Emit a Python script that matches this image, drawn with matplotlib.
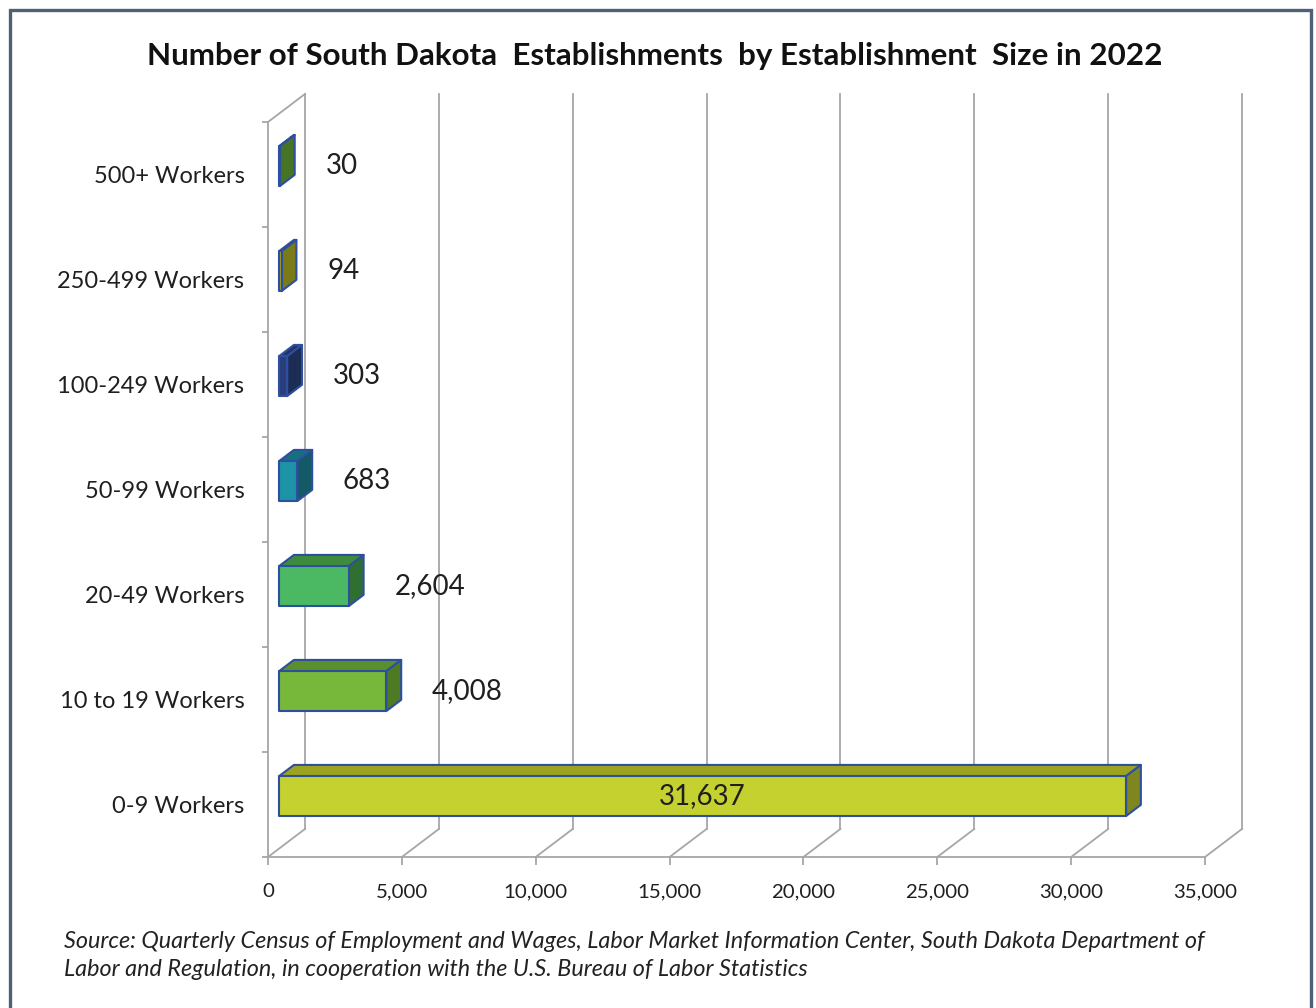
import matplotlib.pyplot as plt
from matplotlib.patches import Polygon, Rectangle

plt.rcParams['font.family'] = ['Lato', 'DejaVu Sans']

# Establishment counts by size class, bottom to top
categories = ['0-9 Workers', '10 to 19 Workers', '20-49 Workers', '50-99 Workers',
              '100-249 Workers', '250-499 Workers', '500+ Workers']
counts = [31637, 4008, 2604, 683, 303, 94, 30]
xticks = [0, 5000, 10000, 15000, 20000, 25000, 30000, 35000]

front_colors = ['#C4D12F', '#77B73A', '#4BB864', '#1D93A6', '#2A3F7A', '#9C9C22', '#558A2D']
top_colors = ['#9BA31F', '#5A8F2C', '#3D8C3E', '#167080', '#223366', '#85851C', '#4B7A28']
side_colors = ['#7E861F', '#4E7A24', '#2F7032', '#135966', '#1C2D55', '#7A7A18', '#467324']

# fake 3d: offset of the back wall in data units
DX, DY = 1382, 0.267
D0, D1 = 0.3, 0.7   # bar depth span
H = 0.19            # half bar height
grid_c = '#A6A6A6'
edge_c = '#2E4FA0'
text_c = '#1F1F1F'


def proj(v, y, d):
    return (v + d * DX, y + d * DY)


fig = plt.figure(figsize=(13.16, 10.08), dpi=100)
ax = fig.add_axes([268 / 1316, 151 / 1008, 937 / 1316, 735 / 1008])
ax.set_xlim(0, 35000)
ax.set_ylim(0, 7)

# back wall gridlines and floor diagonals
for v in xticks:
    ax.plot([v + DX, v + DX], [DY, 7 + DY], color=grid_c, lw=1.3, clip_on=False, zorder=1)
    ax.plot([v, v + DX], [0, DY], color=grid_c, lw=1.3, clip_on=False, zorder=1)
ax.plot([0, DX], [7, 7 + DY], color=grid_c, lw=1.3, clip_on=False, zorder=1)

# bars
for i, v in enumerate(counts):
    yc = i + 0.5
    front = [proj(0, yc - H, D0), proj(v, yc - H, D0), proj(v, yc + H, D0), proj(0, yc + H, D0)]
    top = [proj(0, yc + H, D0), proj(v, yc + H, D0), proj(v, yc + H, D1), proj(0, yc + H, D1)]
    side = [proj(v, yc - H, D0), proj(v, yc - H, D1), proj(v, yc + H, D1), proj(v, yc + H, D0)]
    for pts, fc in [(top, top_colors[i]), (side, side_colors[i]), (front, front_colors[i])]:
        ax.add_patch(Polygon(pts, closed=True, facecolor=fc, edgecolor=edge_c,
                             lw=1.5, joinstyle='round', clip_on=False, zorder=3))

    lx, ly = proj(v, yc, D0)
    if v > 20000:
        ax.text(v / 2 + D0 * DX, ly, f'{v:,}', ha='center', va='center',
                fontsize=20, color=text_c, zorder=4)
    else:
        ex, _ = proj(v, yc, D1)
        ax.text(ex + 1150, ly, f'{v:,}', ha='left', va='center',
                fontsize=20, color=text_c, zorder=4)

# axes styling
for s in ['top', 'right']:
    ax.spines[s].set_visible(False)
for s in ['left', 'bottom']:
    ax.spines[s].set_color(grid_c)
    ax.spines[s].set_linewidth(1.3)

ax.set_xticks(xticks)
ax.set_xticklabels([f'{v:,}' for v in xticks], fontsize=14.7, color=text_c)
ax.tick_params(axis='x', direction='out', length=6, width=1.3, color=grid_c, pad=13)

ax.set_yticks(range(8))
ax.set_yticklabels([])
ax.tick_params(axis='y', which='major', direction='out', length=4.5, width=1.3, color=grid_c)
ax.set_yticks([i + 0.5 for i in range(7)], minor=True)
ax.set_yticklabels(categories, minor=True, fontsize=17, color=text_c)
ax.tick_params(axis='y', which='minor', length=0, pad=17)

fig.text(655 / 1316, 1 - 56 / 1008,
         'Number of South Dakota  Establishments  by Establishment  Size in 2022',
         ha='center', va='center', fontsize=22.6, fontweight='bold', color='#111111')

fig.text(64 / 1316, 1 - 942 / 1008,
         'Source: Quarterly Census of Employment and Wages, Labor Market Information Center, '
         'South Dakota Department of', ha='left', va='center', fontsize=16.8,
         style='italic', color='#222222')
fig.text(64 / 1316, 1 - 970 / 1008,
         'Labor and Regulation, in cooperation with the U.S. Bureau of Labor Statistics',
         ha='left', va='center', fontsize=16.8, style='italic', color='#222222')

# chart frame
fig.patches.append(Rectangle((10 / 1316, -0.05), 1301 / 1316, 1 - 10 / 1008 + 0.05,
                             transform=fig.transFigure, fill=False,
                             edgecolor='#4F5F75', lw=2.4))

fig.savefig('out.png', dpi=100)
